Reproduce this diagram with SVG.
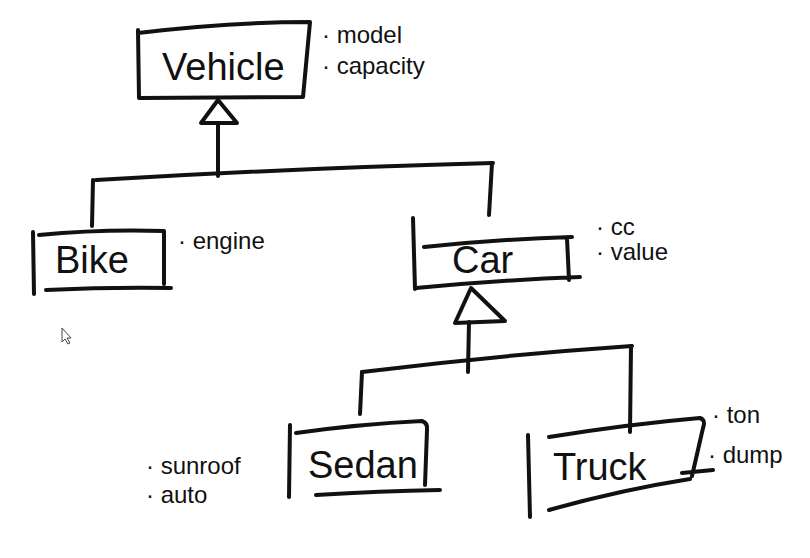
<svg xmlns="http://www.w3.org/2000/svg" width="810" height="558" viewBox="0 0 810 558">
<style>
.ln{fill:none;stroke:#111;stroke-width:4;stroke-linecap:round;stroke-linejoin:round}
.tri{fill:#fff;stroke:#111;stroke-width:4;stroke-linejoin:round}
.nm{font-family:"Liberation Sans","DejaVu Sans",sans-serif;font-size:38px;fill:#111}
.at{font-family:"Liberation Sans","DejaVu Sans",sans-serif;font-size:24px;fill:#111}
</style>
<rect width="810" height="558" fill="#fff"/>
<g id="connectors">
<polygon class="tri" points="218,100 201,123 237,123"/>
<path class="ln" d="M218,123 L218,176"/>
<path class="ln" d="M96,180 Q300,168 493,163"/>
<path class="ln" d="M93,180 L92,226"/>
<path class="ln" d="M492,163 L489,215"/>
<polygon class="tri" points="471,288 455,323 505,321"/>
<path class="ln" d="M469,322 L468,372"/>
<path class="ln" d="M362,372 Q500,355 632,346"/>
<path class="ln" d="M362,372 L360,414"/>
<path class="ln" d="M631,346 L630,432"/>
</g>
<g id="vehicle">
<path class="ln" d="M138,33 Q230,22 310,22 L303,97 L140,98 M138,30 L139,98"/>
<text class="nm" x="162" y="80">Vehicle</text>
<text class="at" x="322" y="43">· model</text>
<text class="at" x="322" y="74">· capacity</text>
</g>
<g id="bike">
<path class="ln" d="M33,232 L34,294"/>
<path class="ln" d="M39,235 Q100,229 164,231 L164,284 M46,290 Q110,287 171,288"/>
<text class="nm" x="55" y="273">Bike</text>
<text class="at" x="178" y="249">· engine</text>
</g>
<g id="car">
<path class="ln" d="M413,218 L415,289"/>
<path class="ln" d="M424,247 Q500,239 572,237 M567,238 L569,280 M416,288 Q500,280 580,277"/>
<text class="nm" x="452" y="273">Car</text>
<text class="at" x="596" y="235">· cc</text>
<text class="at" x="596" y="260">· value</text>
</g>
<g id="sedan">
<path class="ln" d="M290,425 L289,497"/>
<path class="ln" d="M296,433 Q360,424 422,421 Q428,423 427,430 L425,485 M316,495 Q380,491 440,490"/>
<text class="nm" x="308" y="478">Sedan</text>
<text class="at" x="146" y="474">· sunroof</text>
<text class="at" x="146" y="503">· auto</text>
</g>
<g id="truck">
<path class="ln" d="M528,435 L530,517"/>
<path class="ln" d="M549,437 Q630,424 700,418 Q706,420 703,428 L692,476 M549,510 Q620,490 690,479 M682,473 L713,470"/>
<text class="nm" x="553" y="480">Truck</text>
<text class="at" x="712" y="423">· ton</text>
<text class="at" x="708" y="463">· dump</text>
</g>
<path d="M62,328 L62,342 L65,339 L68,344 L70,343 L67,338 L71,338 Z" fill="#fff" stroke="#444" stroke-width="1"/>
</svg>
